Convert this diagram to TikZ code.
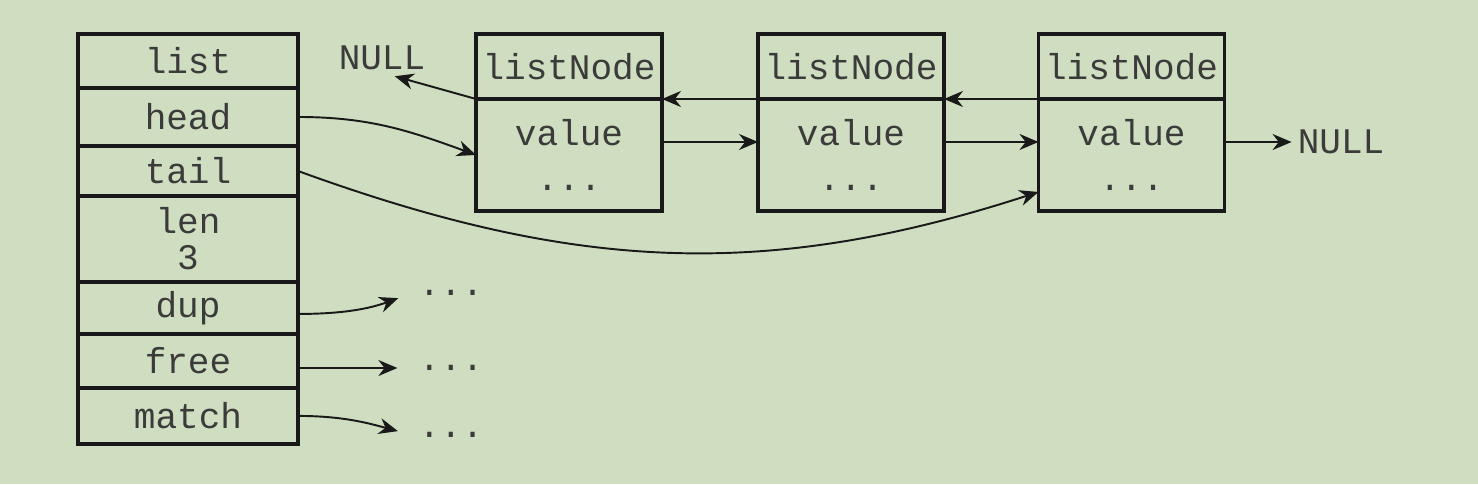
\documentclass[tikz,border=0pt]{standalone}
\usepackage{fontspec}
\setmonofont{Liberation Mono}
\usetikzlibrary{arrows.meta}
\definecolor{bg}{RGB}{207,222,192}
\definecolor{ink}{RGB}{25,25,25}

\begin{document}
\begin{tikzpicture}[
    x=0.02cm, y=-0.02cm,
    every node/.style = {font=\ttfamily\fontsize{20.5}{20.5}\selectfont,
      text=ink!85!white, align=center},
    field/.style = {shape=rectangle, draw=ink, line width=1.8pt,
      outer sep=0pt, inner sep=0pt, minimum width=4.4cm, anchor=north},
    cell/.style = {field, minimum width=3.72cm},
    ptr/.style = {draw=ink, line width=1.1pt,
      -{Stealth[length=0.38cm,width=0.32cm]}},
    gap/.style = {shorten >=0.3cm},
    ]
  \fill[bg] (0,0) rectangle (1478,484);

  % list struct
  \node[field, minimum height=1.08cm] (list) at (188,34) {list};
  \node[field, minimum height=1.16cm] (head) at (list.south) {head};
  \node[field, minimum height=1.0cm] (tail) at (head.south) {tail};
  \node[field, minimum height=1.72cm] (len) at (tail.south) {len\\3};
  \node[field, minimum height=1.04cm] (dup) at (len.south) {dup};
  \node[field, minimum height=1.08cm] (free) at (dup.south) {free};
  \node[field, minimum height=1.12cm] (match) at (free.south) {match};

  % listNode boxes
  \node[cell, minimum height=1.3cm] (n1t) at (569,34) {listNode};
  \node[cell, minimum height=2.24cm] (n1b) at (n1t.south) {value\\[5.5pt]...};
  \node[cell, minimum height=1.3cm] (n2t) at (851,34) {listNode};
  \node[cell, minimum height=2.24cm] (n2b) at (n2t.south) {value\\[5.5pt]...};
  \node[cell, minimum height=1.3cm] (n3t) at (1131.5,34) {listNode};
  \node[cell, minimum height=2.24cm] (n3b) at (n3t.south) {value\\[5.5pt]...};

  \node (nullL) at (382,58) {NULL};
  \node (nullR) at (1341,142) {NULL};
  \node (dupDots) at (451,293) {...};
  \node (freeDots) at (451,368) {...};
  \node (matchDots) at (451,435) {...};

  % prev / next
  \draw[ptr] (n1t.south west) -- (nullL.-55);
  \draw[ptr] (n2t.south west) -- (n1t.south east);
  \draw[ptr] (n3t.south west) -- (n2t.south east);
  \draw[ptr] ([yshift=0.26cm]n1b.east) -- ([yshift=0.26cm]n2b.west);
  \draw[ptr] ([yshift=0.26cm]n2b.east) -- ([yshift=0.26cm]n3b.west);
  \draw[ptr] ([yshift=0.26cm]n3b.east) -- (nullR.west);

  % head, tail and the functions
  \draw[ptr] (head.east) to[out=0,in=160] (n1b.west);
  \draw[ptr] (tail.east) to[out=-20,in=198] ([yshift=-0.74cm]n3b.west);
  \draw[ptr, gap] ([yshift=-0.12cm]dup.east) to[out=0,in=200] (dupDots.west);
  \draw[ptr, gap] (free.east |- freeDots) -- (freeDots.west);
  \draw[ptr, gap] (match.east) to[out=0,in=165] (matchDots.west);
\end{tikzpicture}
\end{document}
